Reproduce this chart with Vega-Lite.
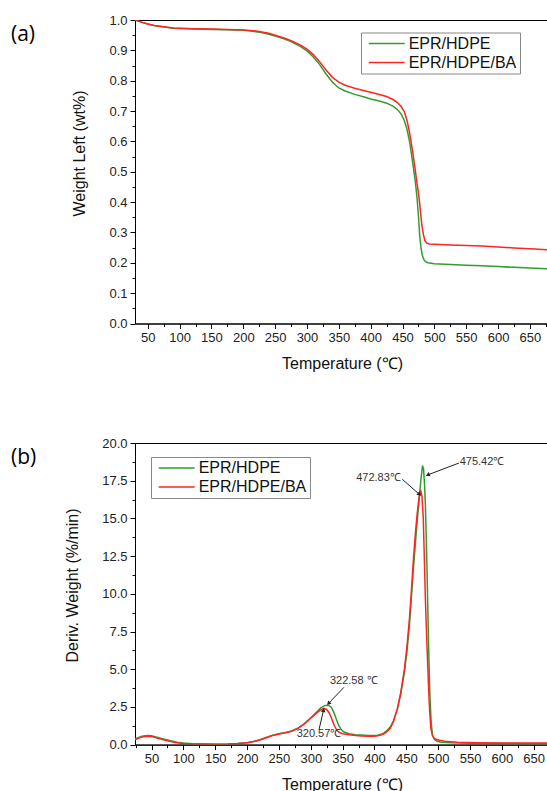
{
  "$schema": "https://vega.github.io/schema/vega-lite/v6.json",
  "autosize": {"type": "pad"},
  "padding": {"left": 10, "top": 13, "right": 0, "bottom": 0},
  "background": "white",
  "bounds": "flush",
  "spacing": 119,
  "config": {
    "view": {"stroke": "#000", "strokeWidth": 1},
    "font": "Liberation Sans",
    "axis": {"grid": false, "domainColor": "#000", "tickColor": "#000", "labelColor": "#222", "titleColor": "#111", "labelFontSize": 13, "titleFontSize": 16, "titleFontWeight": "normal", "labelFont": "Liberation Sans", "titleFont": "Liberation Sans", "tickSize": 5, "domainWidth": 1, "tickWidth": 1, "labelPadding": 3},
    "legend": {"symbolType": "M-3,0H3", "symbolSize": 144, "symbolStrokeWidth": 1.5, "symbolOffset": 14.7, "labelFontSize": 16, "labelFont": "Liberation Sans", "labelColor": "#111", "strokeColor": "#888", "fillColor": "white", "padding": 3, "rowPadding": 3, "labelOffset": 14},
    "title": {"font": "Open Sans", "fontSize": 21, "fontWeight": "normal", "color": "#000"}
  },
  "datasets": {
    "tga": [
      {"T": 30, "w": 1.0, "s": "EPR/HDPE"}, {"T": 40, "w": 0.993, "s": "EPR/HDPE"}, {"T": 50, "w": 0.987, "s": "EPR/HDPE"}, {"T": 60, "w": 0.982, "s": "EPR/HDPE"}, {"T": 75, "w": 0.977, "s": "EPR/HDPE"}, {"T": 90, "w": 0.973, "s": "EPR/HDPE"}, {"T": 100, "w": 0.972, "s": "EPR/HDPE"}, {"T": 125, "w": 0.97, "s": "EPR/HDPE"}, {"T": 150, "w": 0.969, "s": "EPR/HDPE"}, {"T": 175, "w": 0.968, "s": "EPR/HDPE"}, {"T": 200, "w": 0.966, "s": "EPR/HDPE"}, {"T": 215, "w": 0.963, "s": "EPR/HDPE"}, {"T": 225, "w": 0.96, "s": "EPR/HDPE"}, {"T": 240, "w": 0.953, "s": "EPR/HDPE"}, {"T": 250, "w": 0.947, "s": "EPR/HDPE"}, {"T": 265, "w": 0.937, "s": "EPR/HDPE"}, {"T": 275, "w": 0.929, "s": "EPR/HDPE"}, {"T": 290, "w": 0.912, "s": "EPR/HDPE"}, {"T": 300, "w": 0.898, "s": "EPR/HDPE"}, {"T": 310, "w": 0.878, "s": "EPR/HDPE"}, {"T": 320, "w": 0.853, "s": "EPR/HDPE"}, {"T": 330, "w": 0.822, "s": "EPR/HDPE"}, {"T": 340, "w": 0.795, "s": "EPR/HDPE"}, {"T": 350, "w": 0.776, "s": "EPR/HDPE"}, {"T": 360, "w": 0.766, "s": "EPR/HDPE"}, {"T": 375, "w": 0.755, "s": "EPR/HDPE"}, {"T": 390, "w": 0.746, "s": "EPR/HDPE"}, {"T": 400, "w": 0.74, "s": "EPR/HDPE"}, {"T": 415, "w": 0.732, "s": "EPR/HDPE"}, {"T": 425, "w": 0.726, "s": "EPR/HDPE"}, {"T": 435, "w": 0.716, "s": "EPR/HDPE"}, {"T": 442, "w": 0.705, "s": "EPR/HDPE"}, {"T": 448, "w": 0.69, "s": "EPR/HDPE"}, {"T": 453, "w": 0.668, "s": "EPR/HDPE"}, {"T": 457, "w": 0.64, "s": "EPR/HDPE"}, {"T": 461, "w": 0.6, "s": "EPR/HDPE"}, {"T": 464, "w": 0.56, "s": "EPR/HDPE"}, {"T": 467, "w": 0.515, "s": "EPR/HDPE"}, {"T": 470, "w": 0.47, "s": "EPR/HDPE"}, {"T": 473, "w": 0.41, "s": "EPR/HDPE"}, {"T": 475, "w": 0.355, "s": "EPR/HDPE"}, {"T": 477, "w": 0.29, "s": "EPR/HDPE"}, {"T": 479, "w": 0.25, "s": "EPR/HDPE"}, {"T": 481, "w": 0.225, "s": "EPR/HDPE"}, {"T": 483, "w": 0.213, "s": "EPR/HDPE"}, {"T": 486, "w": 0.204, "s": "EPR/HDPE"}, {"T": 490, "w": 0.2, "s": "EPR/HDPE"}, {"T": 500, "w": 0.197, "s": "EPR/HDPE"}, {"T": 525, "w": 0.194, "s": "EPR/HDPE"}, {"T": 550, "w": 0.192, "s": "EPR/HDPE"}, {"T": 575, "w": 0.19, "s": "EPR/HDPE"}, {"T": 600, "w": 0.188, "s": "EPR/HDPE"}, {"T": 625, "w": 0.185, "s": "EPR/HDPE"}, {"T": 650, "w": 0.183, "s": "EPR/HDPE"}, {"T": 680, "w": 0.18, "s": "EPR/HDPE"},
      {"T": 30, "w": 1.0, "s": "EPR/HDPE/BA"}, {"T": 40, "w": 0.993, "s": "EPR/HDPE/BA"}, {"T": 50, "w": 0.987, "s": "EPR/HDPE/BA"}, {"T": 60, "w": 0.982, "s": "EPR/HDPE/BA"}, {"T": 75, "w": 0.978, "s": "EPR/HDPE/BA"}, {"T": 90, "w": 0.974, "s": "EPR/HDPE/BA"}, {"T": 100, "w": 0.973, "s": "EPR/HDPE/BA"}, {"T": 125, "w": 0.971, "s": "EPR/HDPE/BA"}, {"T": 150, "w": 0.97, "s": "EPR/HDPE/BA"}, {"T": 175, "w": 0.969, "s": "EPR/HDPE/BA"}, {"T": 200, "w": 0.967, "s": "EPR/HDPE/BA"}, {"T": 215, "w": 0.965, "s": "EPR/HDPE/BA"}, {"T": 225, "w": 0.962, "s": "EPR/HDPE/BA"}, {"T": 240, "w": 0.956, "s": "EPR/HDPE/BA"}, {"T": 250, "w": 0.95, "s": "EPR/HDPE/BA"}, {"T": 265, "w": 0.94, "s": "EPR/HDPE/BA"}, {"T": 275, "w": 0.932, "s": "EPR/HDPE/BA"}, {"T": 290, "w": 0.917, "s": "EPR/HDPE/BA"}, {"T": 300, "w": 0.904, "s": "EPR/HDPE/BA"}, {"T": 310, "w": 0.886, "s": "EPR/HDPE/BA"}, {"T": 320, "w": 0.862, "s": "EPR/HDPE/BA"}, {"T": 330, "w": 0.835, "s": "EPR/HDPE/BA"}, {"T": 340, "w": 0.811, "s": "EPR/HDPE/BA"}, {"T": 350, "w": 0.795, "s": "EPR/HDPE/BA"}, {"T": 360, "w": 0.785, "s": "EPR/HDPE/BA"}, {"T": 375, "w": 0.775, "s": "EPR/HDPE/BA"}, {"T": 390, "w": 0.767, "s": "EPR/HDPE/BA"}, {"T": 400, "w": 0.762, "s": "EPR/HDPE/BA"}, {"T": 415, "w": 0.754, "s": "EPR/HDPE/BA"}, {"T": 425, "w": 0.748, "s": "EPR/HDPE/BA"}, {"T": 435, "w": 0.738, "s": "EPR/HDPE/BA"}, {"T": 442, "w": 0.728, "s": "EPR/HDPE/BA"}, {"T": 448, "w": 0.715, "s": "EPR/HDPE/BA"}, {"T": 453, "w": 0.697, "s": "EPR/HDPE/BA"}, {"T": 457, "w": 0.67, "s": "EPR/HDPE/BA"}, {"T": 460, "w": 0.64, "s": "EPR/HDPE/BA"}, {"T": 463, "w": 0.605, "s": "EPR/HDPE/BA"}, {"T": 466, "w": 0.565, "s": "EPR/HDPE/BA"}, {"T": 469, "w": 0.52, "s": "EPR/HDPE/BA"}, {"T": 472, "w": 0.475, "s": "EPR/HDPE/BA"}, {"T": 475, "w": 0.43, "s": "EPR/HDPE/BA"}, {"T": 477, "w": 0.395, "s": "EPR/HDPE/BA"}, {"T": 479, "w": 0.35, "s": "EPR/HDPE/BA"}, {"T": 481, "w": 0.315, "s": "EPR/HDPE/BA"}, {"T": 483, "w": 0.292, "s": "EPR/HDPE/BA"}, {"T": 485, "w": 0.274, "s": "EPR/HDPE/BA"}, {"T": 488, "w": 0.265, "s": "EPR/HDPE/BA"}, {"T": 492, "w": 0.262, "s": "EPR/HDPE/BA"}, {"T": 500, "w": 0.261, "s": "EPR/HDPE/BA"}, {"T": 525, "w": 0.259, "s": "EPR/HDPE/BA"}, {"T": 550, "w": 0.257, "s": "EPR/HDPE/BA"}, {"T": 575, "w": 0.255, "s": "EPR/HDPE/BA"}, {"T": 600, "w": 0.252, "s": "EPR/HDPE/BA"}, {"T": 625, "w": 0.249, "s": "EPR/HDPE/BA"}, {"T": 650, "w": 0.246, "s": "EPR/HDPE/BA"}, {"T": 680, "w": 0.243, "s": "EPR/HDPE/BA"}
    ],
    "dtg": [
      {"T": 24, "v": 0.38, "s": "EPR/HDPE"}, {"T": 30, "v": 0.48, "s": "EPR/HDPE"}, {"T": 35, "v": 0.55, "s": "EPR/HDPE"}, {"T": 40, "v": 0.59, "s": "EPR/HDPE"}, {"T": 45, "v": 0.6, "s": "EPR/HDPE"}, {"T": 50, "v": 0.58, "s": "EPR/HDPE"}, {"T": 55, "v": 0.53, "s": "EPR/HDPE"}, {"T": 60, "v": 0.47, "s": "EPR/HDPE"}, {"T": 70, "v": 0.36, "s": "EPR/HDPE"}, {"T": 80, "v": 0.25, "s": "EPR/HDPE"}, {"T": 90, "v": 0.16, "s": "EPR/HDPE"}, {"T": 100, "v": 0.1, "s": "EPR/HDPE"}, {"T": 115, "v": 0.06, "s": "EPR/HDPE"}, {"T": 130, "v": 0.04, "s": "EPR/HDPE"}, {"T": 150, "v": 0.03, "s": "EPR/HDPE"}, {"T": 170, "v": 0.04, "s": "EPR/HDPE"}, {"T": 185, "v": 0.07, "s": "EPR/HDPE"}, {"T": 200, "v": 0.13, "s": "EPR/HDPE"}, {"T": 210, "v": 0.2, "s": "EPR/HDPE"}, {"T": 220, "v": 0.32, "s": "EPR/HDPE"}, {"T": 230, "v": 0.47, "s": "EPR/HDPE"}, {"T": 240, "v": 0.62, "s": "EPR/HDPE"}, {"T": 250, "v": 0.72, "s": "EPR/HDPE"}, {"T": 260, "v": 0.8, "s": "EPR/HDPE"}, {"T": 270, "v": 0.9, "s": "EPR/HDPE"}, {"T": 280, "v": 1.1, "s": "EPR/HDPE"}, {"T": 290, "v": 1.4, "s": "EPR/HDPE"}, {"T": 300, "v": 1.78, "s": "EPR/HDPE"}, {"T": 310, "v": 2.2, "s": "EPR/HDPE"}, {"T": 316, "v": 2.45, "s": "EPR/HDPE"}, {"T": 322.6, "v": 2.6, "s": "EPR/HDPE"}, {"T": 328, "v": 2.6, "s": "EPR/HDPE"}, {"T": 332, "v": 2.48, "s": "EPR/HDPE"}, {"T": 336, "v": 2.15, "s": "EPR/HDPE"}, {"T": 340, "v": 1.7, "s": "EPR/HDPE"}, {"T": 344, "v": 1.25, "s": "EPR/HDPE"}, {"T": 348, "v": 0.98, "s": "EPR/HDPE"}, {"T": 352, "v": 0.83, "s": "EPR/HDPE"}, {"T": 360, "v": 0.72, "s": "EPR/HDPE"}, {"T": 370, "v": 0.66, "s": "EPR/HDPE"}, {"T": 380, "v": 0.63, "s": "EPR/HDPE"}, {"T": 390, "v": 0.6, "s": "EPR/HDPE"}, {"T": 400, "v": 0.6, "s": "EPR/HDPE"}, {"T": 405, "v": 0.62, "s": "EPR/HDPE"}, {"T": 410, "v": 0.68, "s": "EPR/HDPE"}, {"T": 415, "v": 0.78, "s": "EPR/HDPE"}, {"T": 420, "v": 0.95, "s": "EPR/HDPE"}, {"T": 425, "v": 1.18, "s": "EPR/HDPE"}, {"T": 430, "v": 1.6, "s": "EPR/HDPE"}, {"T": 436, "v": 2.35, "s": "EPR/HDPE"}, {"T": 441, "v": 3.3, "s": "EPR/HDPE"}, {"T": 447, "v": 4.8, "s": "EPR/HDPE"}, {"T": 451, "v": 6.2, "s": "EPR/HDPE"}, {"T": 455, "v": 8.0, "s": "EPR/HDPE"}, {"T": 458, "v": 9.8, "s": "EPR/HDPE"}, {"T": 461, "v": 11.6, "s": "EPR/HDPE"}, {"T": 464, "v": 13.2, "s": "EPR/HDPE"}, {"T": 467, "v": 14.8, "s": "EPR/HDPE"}, {"T": 470, "v": 16.2, "s": "EPR/HDPE"}, {"T": 473, "v": 17.6, "s": "EPR/HDPE"}, {"T": 475.4, "v": 18.5, "s": "EPR/HDPE"}, {"T": 477, "v": 18.3, "s": "EPR/HDPE"}, {"T": 478.5, "v": 17.3, "s": "EPR/HDPE"}, {"T": 480, "v": 15.8, "s": "EPR/HDPE"}, {"T": 482, "v": 12.5, "s": "EPR/HDPE"}, {"T": 483.5, "v": 9.5, "s": "EPR/HDPE"}, {"T": 485, "v": 6.5, "s": "EPR/HDPE"}, {"T": 487, "v": 3.2, "s": "EPR/HDPE"}, {"T": 489, "v": 1.5, "s": "EPR/HDPE"}, {"T": 491, "v": 0.65, "s": "EPR/HDPE"}, {"T": 494, "v": 0.35, "s": "EPR/HDPE"}, {"T": 498, "v": 0.22, "s": "EPR/HDPE"}, {"T": 505, "v": 0.16, "s": "EPR/HDPE"}, {"T": 520, "v": 0.12, "s": "EPR/HDPE"}, {"T": 550, "v": 0.09, "s": "EPR/HDPE"}, {"T": 600, "v": 0.07, "s": "EPR/HDPE"}, {"T": 650, "v": 0.06, "s": "EPR/HDPE"}, {"T": 680, "v": 0.06, "s": "EPR/HDPE"},
      {"T": 24, "v": 0.32, "s": "EPR/HDPE/BA"}, {"T": 30, "v": 0.43, "s": "EPR/HDPE/BA"}, {"T": 35, "v": 0.5, "s": "EPR/HDPE/BA"}, {"T": 40, "v": 0.54, "s": "EPR/HDPE/BA"}, {"T": 45, "v": 0.55, "s": "EPR/HDPE/BA"}, {"T": 50, "v": 0.53, "s": "EPR/HDPE/BA"}, {"T": 55, "v": 0.48, "s": "EPR/HDPE/BA"}, {"T": 60, "v": 0.42, "s": "EPR/HDPE/BA"}, {"T": 70, "v": 0.31, "s": "EPR/HDPE/BA"}, {"T": 80, "v": 0.21, "s": "EPR/HDPE/BA"}, {"T": 90, "v": 0.13, "s": "EPR/HDPE/BA"}, {"T": 100, "v": 0.08, "s": "EPR/HDPE/BA"}, {"T": 115, "v": 0.05, "s": "EPR/HDPE/BA"}, {"T": 130, "v": 0.04, "s": "EPR/HDPE/BA"}, {"T": 150, "v": 0.03, "s": "EPR/HDPE/BA"}, {"T": 170, "v": 0.04, "s": "EPR/HDPE/BA"}, {"T": 185, "v": 0.07, "s": "EPR/HDPE/BA"}, {"T": 200, "v": 0.13, "s": "EPR/HDPE/BA"}, {"T": 210, "v": 0.2, "s": "EPR/HDPE/BA"}, {"T": 220, "v": 0.3, "s": "EPR/HDPE/BA"}, {"T": 230, "v": 0.45, "s": "EPR/HDPE/BA"}, {"T": 240, "v": 0.6, "s": "EPR/HDPE/BA"}, {"T": 250, "v": 0.7, "s": "EPR/HDPE/BA"}, {"T": 260, "v": 0.78, "s": "EPR/HDPE/BA"}, {"T": 270, "v": 0.88, "s": "EPR/HDPE/BA"}, {"T": 280, "v": 1.08, "s": "EPR/HDPE/BA"}, {"T": 290, "v": 1.38, "s": "EPR/HDPE/BA"}, {"T": 300, "v": 1.75, "s": "EPR/HDPE/BA"}, {"T": 310, "v": 2.12, "s": "EPR/HDPE/BA"}, {"T": 316, "v": 2.32, "s": "EPR/HDPE/BA"}, {"T": 320.6, "v": 2.4, "s": "EPR/HDPE/BA"}, {"T": 325, "v": 2.33, "s": "EPR/HDPE/BA"}, {"T": 329, "v": 2.1, "s": "EPR/HDPE/BA"}, {"T": 333, "v": 1.7, "s": "EPR/HDPE/BA"}, {"T": 337, "v": 1.25, "s": "EPR/HDPE/BA"}, {"T": 341, "v": 0.95, "s": "EPR/HDPE/BA"}, {"T": 345, "v": 0.8, "s": "EPR/HDPE/BA"}, {"T": 350, "v": 0.72, "s": "EPR/HDPE/BA"}, {"T": 360, "v": 0.65, "s": "EPR/HDPE/BA"}, {"T": 370, "v": 0.6, "s": "EPR/HDPE/BA"}, {"T": 380, "v": 0.57, "s": "EPR/HDPE/BA"}, {"T": 390, "v": 0.55, "s": "EPR/HDPE/BA"}, {"T": 400, "v": 0.55, "s": "EPR/HDPE/BA"}, {"T": 405, "v": 0.58, "s": "EPR/HDPE/BA"}, {"T": 410, "v": 0.63, "s": "EPR/HDPE/BA"}, {"T": 415, "v": 0.72, "s": "EPR/HDPE/BA"}, {"T": 420, "v": 0.88, "s": "EPR/HDPE/BA"}, {"T": 425, "v": 1.1, "s": "EPR/HDPE/BA"}, {"T": 430, "v": 1.55, "s": "EPR/HDPE/BA"}, {"T": 436, "v": 2.4, "s": "EPR/HDPE/BA"}, {"T": 441, "v": 3.4, "s": "EPR/HDPE/BA"}, {"T": 447, "v": 5.0, "s": "EPR/HDPE/BA"}, {"T": 451, "v": 6.5, "s": "EPR/HDPE/BA"}, {"T": 455, "v": 8.4, "s": "EPR/HDPE/BA"}, {"T": 458, "v": 10.2, "s": "EPR/HDPE/BA"}, {"T": 461, "v": 12.2, "s": "EPR/HDPE/BA"}, {"T": 464, "v": 13.9, "s": "EPR/HDPE/BA"}, {"T": 467, "v": 15.3, "s": "EPR/HDPE/BA"}, {"T": 470, "v": 16.4, "s": "EPR/HDPE/BA"}, {"T": 472.8, "v": 16.8, "s": "EPR/HDPE/BA"}, {"T": 474.5, "v": 16.5, "s": "EPR/HDPE/BA"}, {"T": 476.6, "v": 15.0, "s": "EPR/HDPE/BA"}, {"T": 478, "v": 12.8, "s": "EPR/HDPE/BA"}, {"T": 480, "v": 9.5, "s": "EPR/HDPE/BA"}, {"T": 482.5, "v": 6.5, "s": "EPR/HDPE/BA"}, {"T": 484.8, "v": 3.9, "s": "EPR/HDPE/BA"}, {"T": 486.5, "v": 2.3, "s": "EPR/HDPE/BA"}, {"T": 488.6, "v": 1.06, "s": "EPR/HDPE/BA"}, {"T": 491, "v": 0.6, "s": "EPR/HDPE/BA"}, {"T": 494, "v": 0.4, "s": "EPR/HDPE/BA"}, {"T": 500, "v": 0.3, "s": "EPR/HDPE/BA"}, {"T": 510, "v": 0.22, "s": "EPR/HDPE/BA"}, {"T": 530, "v": 0.16, "s": "EPR/HDPE/BA"}, {"T": 560, "v": 0.13, "s": "EPR/HDPE/BA"}, {"T": 600, "v": 0.11, "s": "EPR/HDPE/BA"}, {"T": 650, "v": 0.1, "s": "EPR/HDPE/BA"}, {"T": 680, "v": 0.1, "s": "EPR/HDPE/BA"}
    ],
    "ann": [
      {"label": "475.42℃", "T": 533.7, "v": 18.72, "Ts": 532.6, "vs": 18.67, "Tt": 484.6, "vt": 17.9},
      {"label": "472.83℃", "T": 371.3, "v": 17.66, "Ts": 443.8, "vs": 17.59, "Tt": 469.8, "vt": 16.62},
      {"label": "322.58 ℃", "T": 330.1, "v": 4.2, "Ts": 352.1, "vs": 3.8, "Tt": 328.5, "vt": 2.76},
      {"label": "320.57℃", "T": 277.8, "v": 0.7, "Ts": 312.9, "vs": 0.99, "Tt": 319.8, "vt": 2.25}
    ]
  },
  "vconcat": [
    {
      "width": 414,
      "height": 303.5,
      "title": {"text": "(a)", "anchor": "start", "frame": "group", "orient": "top", "baseline": "middle", "offset": -42, "dx": -124},
      "resolve": {"axis": {"x": "independent", "y": "independent"}},
      "layer": [
        {
          "data": {"name": "tga"},
          "mark": {"type": "line", "strokeWidth": 1.5, "clip": true},
          "encoding": {
            "x": {"field": "T", "type": "quantitative", "scale": {"domain": [30, 680], "nice": false, "zero": false},
                  "axis": {"orient": "bottom", "values": [50, 100, 150, 200, 250, 300, 350, 400, 450, 500, 550, 600, 650], "title": "Temperature (℃)", "titlePadding": 11}},
            "y": {"field": "w", "type": "quantitative", "scale": {"domain": [0, 1], "nice": false},
                  "axis": {"orient": "left", "values": [0, 0.1, 0.2, 0.3, 0.4, 0.5, 0.6, 0.7, 0.8, 0.9, 1.0], "format": ".1f", "title": "Weight Left (wt%)", "titlePadding": 21, "titleY": 133}},
            "color": {"field": "s", "type": "nominal", "scale": {"domain": ["EPR/HDPE", "EPR/HDPE/BA"], "range": ["#2f9e2f", "#ff2424"]},
                      "legend": {"orient": "none", "legendX": 226, "legendY": 12.5, "title": null}}
          }
        },
        {
          "data": {"name": "tga"},
          "mark": {"type": "point", "opacity": 0},
          "encoding": {
            "x": {"field": "T", "type": "quantitative",
                  "axis": {"orient": "bottom", "values": [75, 125, 175, 225, 275, 325, 375, 425, 475, 525, 575, 625, 675], "labels": false, "domain": false, "tickSize": 3, "title": null}},
            "y": {"field": "w", "type": "quantitative",
                  "axis": {"orient": "left", "values": [0.05, 0.15, 0.25, 0.35, 0.45, 0.55, 0.65, 0.75, 0.85, 0.95], "labels": false, "domain": false, "tickSize": 3, "title": null}}
          }
        }
      ]
    },
    {
      "width": 414,
      "height": 301.6,
      "title": {"text": "(b)", "anchor": "start", "frame": "group", "orient": "top", "baseline": "middle", "offset": -42, "dx": -124},
      "resolve": {"axis": {"x": "independent", "y": "independent"}},
      "layer": [
        {
          "data": {"name": "dtg"},
          "mark": {"type": "line", "strokeWidth": 1.5, "clip": true},
          "encoding": {
            "x": {"field": "T", "type": "quantitative", "scale": {"domain": [24, 674], "nice": false, "zero": false},
                  "axis": {"orient": "bottom", "values": [50, 100, 150, 200, 250, 300, 350, 400, 450, 500, 550, 600, 650], "title": "Temperature (℃)", "titlePadding": 11}},
            "y": {"field": "v", "type": "quantitative", "scale": {"domain": [0, 20], "nice": false},
                  "axis": {"orient": "left", "values": [0, 2.5, 5, 7.5, 10, 12.5, 15, 17.5, 20], "format": ".1f", "title": "Deriv. Weight (%/min)", "titlePadding": 21, "titleY": 142}},
            "color": {"field": "s", "type": "nominal", "scale": {"domain": ["EPR/HDPE", "EPR/HDPE/BA"], "range": ["#2f9e2f", "#ff2424"]},
                      "legend": {"orient": "none", "legendX": 16, "legendY": 14, "title": null}}
          }
        },
        {
          "data": {"name": "dtg"},
          "mark": {"type": "point", "opacity": 0},
          "encoding": {
            "x": {"field": "T", "type": "quantitative",
                  "axis": {"orient": "bottom", "values": [25, 75, 125, 175, 225, 275, 325, 375, 425, 475, 525, 575, 625], "labels": false, "domain": false, "tickSize": 3, "title": null}},
            "y": {"field": "v", "type": "quantitative",
                  "axis": {"orient": "left", "values": [1.25, 3.75, 6.25, 8.75, 11.25, 13.75, 16.25, 18.75], "labels": false, "domain": false, "tickSize": 3, "title": null}}
          }
        },
        {
          "data": {"name": "ann"},
          "mark": {"type": "rule", "color": "#222", "strokeWidth": 1},
          "encoding": {
            "x": {"field": "Ts", "type": "quantitative", "axis": null},
            "y": {"field": "vs", "type": "quantitative", "axis": null},
            "x2": {"field": "Tt"},
            "y2": {"field": "vt"}
          }
        },
        {
          "data": {"name": "ann"},
          "transform": [{"filter": "datum.label == '475.42℃'"}],
          "mark": {"type": "point", "shape": "triangle", "filled": true, "color": "#222", "opacity": 1, "size": 22, "angle": 249},
          "encoding": {"x": {"field": "Tt", "type": "quantitative", "axis": null}, "y": {"field": "vt", "type": "quantitative", "axis": null}}
        },
        {
          "data": {"name": "ann"},
          "transform": [{"filter": "datum.label == '472.83℃'"}],
          "mark": {"type": "point", "shape": "triangle", "filled": true, "color": "#222", "opacity": 1, "size": 22, "angle": 131.5},
          "encoding": {"x": {"field": "Tt", "type": "quantitative", "axis": null}, "y": {"field": "vt", "type": "quantitative", "axis": null}}
        },
        {
          "data": {"name": "ann"},
          "transform": [{"filter": "datum.label == '322.58 ℃'"}],
          "mark": {"type": "point", "shape": "triangle", "filled": true, "color": "#222", "opacity": 1, "size": 22, "angle": 224},
          "encoding": {"x": {"field": "Tt", "type": "quantitative", "axis": null}, "y": {"field": "vt", "type": "quantitative", "axis": null}}
        },
        {
          "data": {"name": "ann"},
          "transform": [{"filter": "datum.label == '320.57℃'"}],
          "mark": {"type": "point", "shape": "triangle", "filled": true, "color": "#222", "opacity": 1, "size": 22, "angle": 13},
          "encoding": {"x": {"field": "Tt", "type": "quantitative", "axis": null}, "y": {"field": "vt", "type": "quantitative", "axis": null}}
        },
        {
          "data": {"name": "ann"},
          "mark": {"type": "text", "align": "left", "baseline": "middle", "fontSize": 11, "color": "#333", "font": "Liberation Sans"},
          "encoding": {
            "x": {"field": "T", "type": "quantitative", "axis": null},
            "y": {"field": "v", "type": "quantitative", "axis": null},
            "text": {"field": "label"}
          }
        }
      ]
    }
  ],
  "resolve": {"scale": {"color": "independent", "x": "independent", "y": "independent"}, "legend": {"color": "independent"}}
}
